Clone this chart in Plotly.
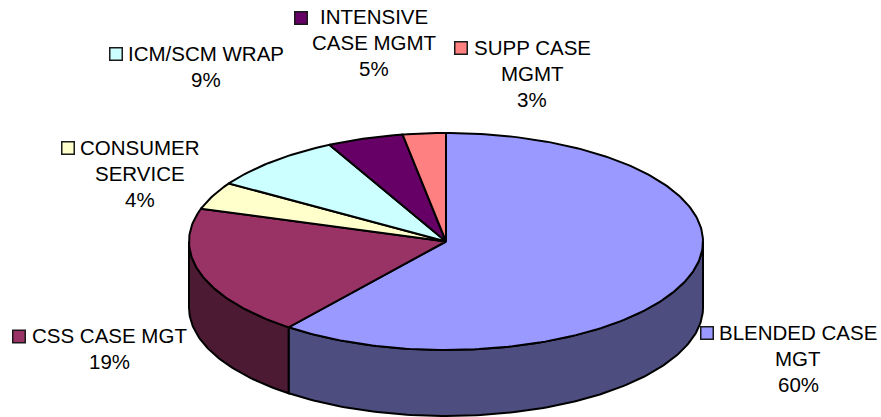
import numpy as np
import plotly.graph_objects as go

categories = ["BLENDED CASE MGT", "CSS CASE MGT", "CONSUMER SERVICE", "ICM/SCM WRAP", "INTENSIVE CASE MGMT", "SUPP CASE MGMT"]
values = [60.49, 19.4, 4.1, 8.51, 4.8, 2.7]
label_lines = [["BLENDED CASE", "MGT"], ["CSS CASE MGT"], ["CONSUMER", "SERVICE"], ["ICM/SCM WRAP"], ["INTENSIVE", "CASE MGMT"], ["SUPP CASE", "MGMT"]]

top_colors = ["#9999FF", "#993366", "#FFFFCC", "#CCFFFF", "#660066", "#FF8080"]
side_colors = ["#4D4D80", "#4D1A33", "#808066", "#668080", "#330033", "#804040"]

# Layout of the drawing, in page pixels
CX, CY, RX, RY, DEPTH = 446.0, 241.5, 257.0, 108.5, 66.0
LABEL_CENTER = [(798, 358.5), (109, 348.5), (140, 173.5), (206, 66.5), (374, 42.5), (532, 73.5)]
KEY_POS = [(707, 333), (19, 336.5), (68, 148), (116, 54), (301, 18), (461, 48)]
LINE_STEP = 26

def rim(t0, t1, dy=0.0):
    n = max(2, int(abs(t1 - t0) * 60))
    t = np.linspace(t0, t1, n)
    return CX + RX * np.sin(t), CY + dy - RY * np.cos(t)

fig = go.Figure()
fractions = np.array(values) / sum(values)
edges = np.concatenate([[0.0], np.cumsum(fractions)]) * 2 * np.pi

# side walls, only the front half (pi/2 .. 3pi/2) is visible
for i in range(len(values)):
    a, b = max(edges[i], np.pi / 2), min(edges[i + 1], 3 * np.pi / 2)
    if b <= a:
        continue
    x1, y1 = rim(a, b)
    x2, y2 = rim(b, a, DEPTH)
    fig.add_trace(go.Scatter(
        x=np.concatenate([x1, x2, x1[:1]]), y=np.concatenate([y1, y2, y1[:1]]),
        mode="lines", fill="toself", fillcolor=side_colors[i],
        line=dict(color="#000000", width=2), hoverinfo="skip", showlegend=False))

# top faces
for i in range(len(values)):
    x1, y1 = rim(edges[i], edges[i + 1])
    fig.add_trace(go.Scatter(
        x=np.concatenate([[CX], x1, [CX]]), y=np.concatenate([[CY], y1, [CY]]),
        mode="lines", fill="toself", fillcolor=top_colors[i],
        line=dict(color="#000000", width=2), name=categories[i],
        hoverinfo="skip", showlegend=False))

# legend keys
for i in range(len(values)):
    fig.add_trace(go.Scatter(
        x=[KEY_POS[i][0]], y=[KEY_POS[i][1]], mode="markers",
        marker=dict(symbol="square", size=12.5, color=top_colors[i], line=dict(color="#1a1a1a", width=1.5)),
        hoverinfo="skip", showlegend=False))

# labels, one annotation per line for the reference's line spacing
for i in range(len(values)):
    lines = label_lines[i] + [f"{round(values[i])}%"]
    for k, line in enumerate(lines):
        fig.add_annotation(x=LABEL_CENTER[i][0], y=LABEL_CENTER[i][1] + (k - (len(lines) - 1) / 2) * LINE_STEP,
                           xref="x", yref="y", text=line, showarrow=False,
                           xanchor="center", yanchor="middle",
                           font=dict(family="Liberation Sans, Arial, sans-serif", size=20.5, color="#000000"))

fig.update_layout(
    width=881, height=417, margin=dict(l=0, r=0, t=0, b=0),
    paper_bgcolor="#FFFFFF", plot_bgcolor="#FFFFFF",
    xaxis=dict(range=[0, 881], visible=False, fixedrange=True),
    yaxis=dict(range=[417, 0], visible=False, fixedrange=True),
)
fig.write_html("out.html", config={"displayModeBar": False},
               post_script="document.body.style.margin='0';document.body.style.overflow='hidden';")
